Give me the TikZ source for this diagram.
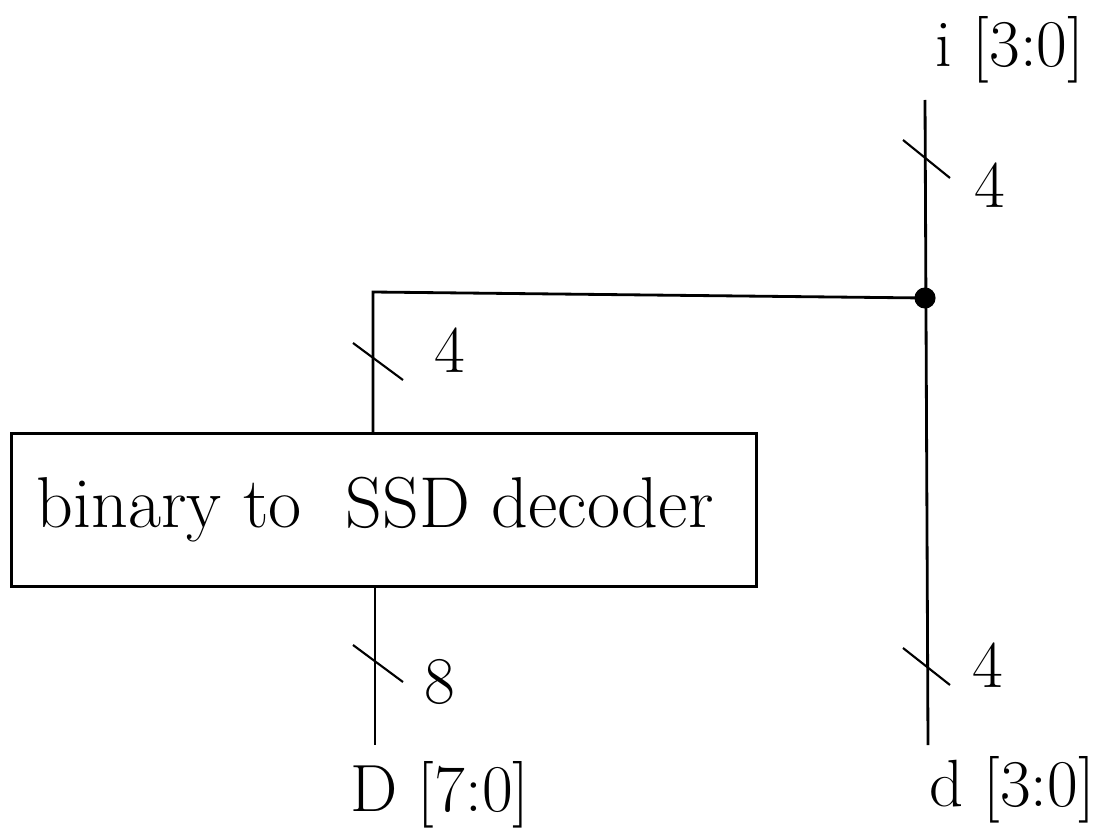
\documentclass[tikz,border=0pt]{standalone}
\usepackage{tikz}
\usetikzlibrary{calc}

\begin{document}
\begin{tikzpicture}[x=0.02cm,y=-0.02cm,
    bus/.style={line width=1.6pt},
    tick/.style={line width=1.2pt},
    lbl/.style={font=\fontsize{38}{46}\selectfont, inner sep=0pt}]

    % 外枠
    \useasboundingbox (0,0) rectangle (1104,831);

    % 座標の定義
    \coordinate (iTop) at (925,100);
    \coordinate (dBot) at (928,745);
    \coordinate (J) at (925,298);
    \coordinate (L) at (373,292);
    \coordinate (DBot) at (375,745);

    % デコーダ
    \node[draw, line width=1.6pt, inner sep=0pt,
          anchor=north west, minimum width=14.9cm, minimum height=3.06cm] (dec) at (10,432) {};
    \node[lbl, font=\fontsize{41}{49}\selectfont] (dectext) at (375,510) {binary to\ \ SSD decoder};

    % 線の描画
    \draw[bus] (iTop) -- (dBot);
    \draw[bus] (J) -- (L) -- (L |- dec.north);
    \draw[bus] (DBot |- dec.south) -- (DBot);
    \fill (J) circle (6pt);

    % バス幅の斜線
    \draw[tick] (903,140) -- (950,178);
    \draw[tick] (353,343) -- (403,380);
    \draw[tick] (353,645) -- (403,682);
    \draw[tick] (903,648) -- (950,685);

    % ラベル
    \node[lbl] (w1) at (990,185) {4};
    \node[lbl] (w2) at (450,350) {4};
    \node[lbl] (w3) at (440,682) {8};
    \node[lbl] (w4) at (988,665) {4};
    \node[lbl] (iname) at (1010,50) {i [3:0]};
    \node[lbl] (Dname) at (440,795) {D [7:0]};
    \node[lbl] (dname) at (1012,790) {d [3:0]};

\end{tikzpicture}
\end{document}
